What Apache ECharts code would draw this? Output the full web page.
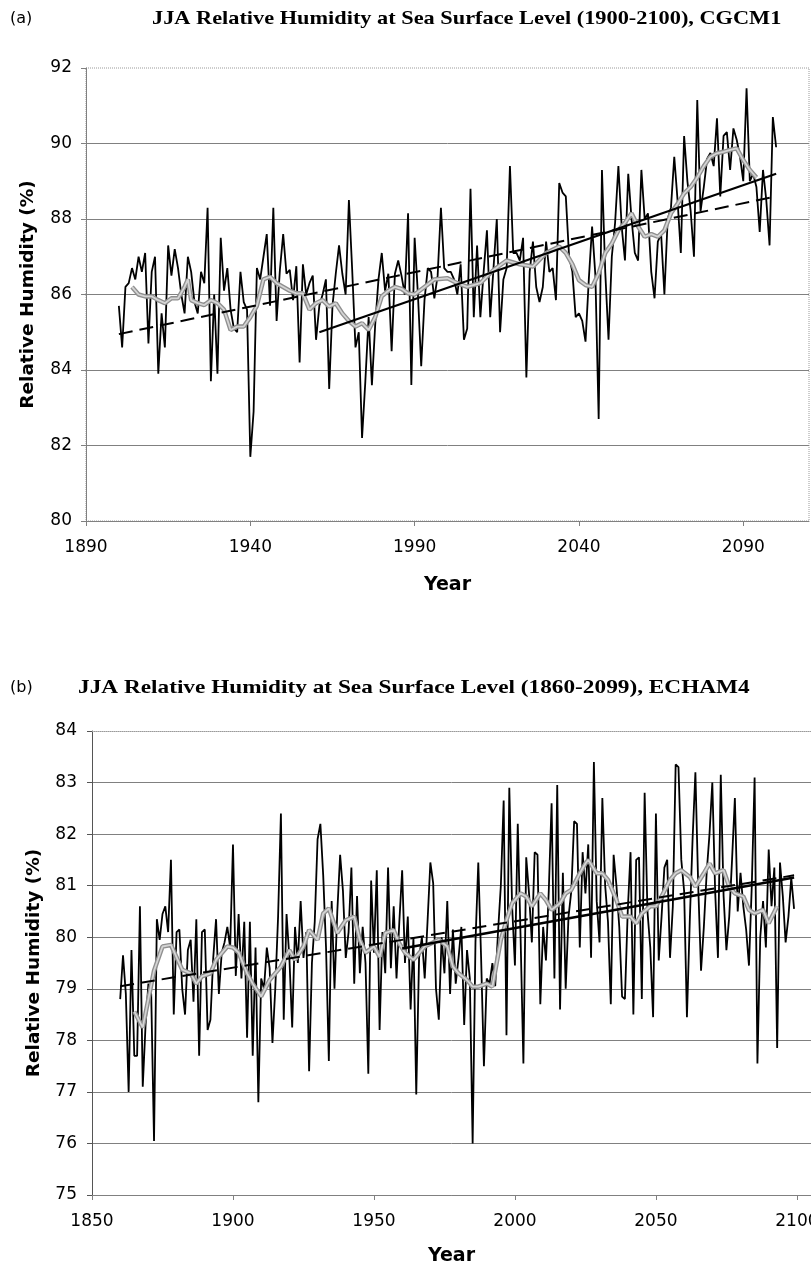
<!DOCTYPE html>
<html><head><meta charset="utf-8">
<script src="https://cdn.jsdelivr.net/npm/echarts@6/dist/echarts.min.js"></script>
<style>html,body{margin:0;padding:0;background:#fff}#c{width:811px;height:1271px}</style>
</head><body><div id="c"></div>
<script>
// ---------- texts ----------
const panelLabelA = '(a)';
const panelLabelB = '(b)';
const titleA = 'JJA Relative Humidity at Sea Surface Level (1900-2100), CGCM1';
const titleB = 'JJA Relative Humidity at Sea Surface Level (1860-2099), ECHAM4';
const yAxisName = 'Relative Humidity (%)';
const xAxisName = 'Year';

// ---------- tick labels ----------
const xTicksA = [1890, 1940, 1990, 2040, 2090];
const yTicksA = [80, 82, 84, 86, 88, 90, 92];
const xTicksB = [1850, 1900, 1950, 2000, 2050, 2100];
const yTicksB = [75, 76, 77, 78, 79, 80, 81, 82, 83, 84];

// ---------- panel (a) CGCM1 data ----------
const startYearA = 1900;
const annualA = [
  85.7, 84.6, 86.2, 86.3, 86.7, 86.4, 87.0, 86.6, 87.1, 84.7,
  86.6, 87.0, 83.9, 85.5, 84.6, 87.3, 86.5, 87.2, 86.7, 86.0,
  85.5, 87.0, 86.6, 85.8, 85.5, 86.6, 86.3, 88.3, 83.7, 86.0,
  83.9, 87.5, 86.1, 86.7, 85.6, 85.1, 85.0, 86.6, 85.8, 85.6,
  81.7, 82.9, 86.7, 86.4, 87.0, 87.6, 85.7, 88.3, 85.3, 86.65,
  87.6, 86.55, 86.65, 85.85, 86.75, 84.2, 86.8, 86.0, 86.3, 86.5,
  84.8, 85.7, 86.0, 86.4, 83.5, 85.7, 86.55, 87.3, 86.55, 86.0,
  88.5, 86.65, 84.6, 85.0, 82.2, 83.7, 85.4, 83.6, 85.2, 86.4,
  87.1, 86.1, 86.55, 84.5, 86.55, 86.9, 86.5, 86.0, 88.15, 83.6,
  87.5, 86.0, 84.1, 85.85, 86.7, 86.6, 85.9, 86.5, 88.3, 86.7,
  86.6, 86.6, 86.4, 86.0, 86.8, 84.8, 85.1, 88.8, 85.4, 87.3,
  85.4, 86.6, 87.7, 85.4, 86.7, 88.0, 85.0, 86.4, 86.7, 89.4,
  87.1, 87.1, 86.9, 87.5, 83.8, 86.6, 87.4, 86.2, 85.8, 86.2,
  87.4, 86.6, 86.7, 85.85, 88.95, 88.7, 88.6, 87.0, 86.6, 85.4,
  85.5, 85.3, 84.75, 86.4, 87.8, 86.5, 82.7, 89.3, 86.6, 84.8,
  87.0, 87.9, 89.4, 87.8, 86.9, 89.2, 88.0, 87.1, 86.9, 89.3,
  88.0, 88.15, 86.6, 85.9, 87.4, 87.6, 86.0, 88.0, 88.3, 89.65,
  88.5, 87.1, 90.2, 89.0, 88.2, 87.0, 91.15, 88.2, 88.85, 89.6,
  89.75, 89.4, 90.67, 88.6, 90.2, 90.3, 89.3, 90.4, 90.1, 89.65,
  89.0, 91.46, 89.0, 89.2, 88.85, 87.66, 89.3, 88.5, 87.3, 90.7, 89.9
];
const smoothYearsA = [1904,1906,1908,1910,1912,1914,1916,1918,1920,1921,1922,1924,1926,1928,1930,1932,1934,1936,1938,1940,
  1942,1944,1946,1948,1950,1952,1954,1956,1958,1960,1962,1964,1966,1968,1970,1972,1974,1976,1978,1980,
  1982,1984,1986,1988,1990,1993,1996,2000,2003,2006,2010,2014,2018,2022,2026,2030,2034,2036,2038,2040,
  2042,2044,2046,2048,2050,2052,2054,2056,2058,2060,2062,2064,2066,2068,2070,2072,2074,2076,2078,2080,
  2082,2084,2086,2088,2090,2092,2094];
const smoothA = [86.2,86.0,85.95,85.95,85.85,85.77,85.9,85.9,86.2,86.4,85.85,85.77,85.72,85.85,85.77,85.6,85.06,85.15,85.15,85.4,
  85.7,86.4,86.47,86.3,86.2,86.1,86.03,86.03,85.6,85.77,85.85,85.68,85.77,85.5,85.3,85.15,85.24,85.06,85.4,85.95,
  86.1,86.2,86.15,86.03,86.0,86.2,86.4,86.43,86.3,86.2,86.3,86.65,86.9,86.8,86.74,87.1,87.27,87.1,86.8,86.38,
  86.25,86.2,86.56,87.1,87.35,87.7,87.9,88.15,87.8,87.53,87.6,87.53,87.7,88.15,88.4,88.68,88.85,89.1,89.4,89.65,
  89.74,89.78,89.83,89.87,89.56,89.3,89.1];
const trendAllYearsA = [1900, 2100];
const trendAllA = [84.95, 88.6];
const trendLateYearsA = [1961, 2100];
const trendLateA = [85.0, 89.2];

// ---------- panel (b) ECHAM4 data ----------
const startYearB = 1860;
const annualB = [
  78.8, 79.65, 78.9, 77.0, 79.75, 77.7, 77.7, 80.6, 77.1, 78.3,
  79.1, 78.9, 76.05, 80.35, 79.95, 80.45, 80.6, 80.1, 81.5, 78.5,
  80.1, 80.15, 79.0, 78.5, 79.75, 79.95, 78.75, 80.35, 77.7, 80.1,
  80.15, 78.2, 78.4, 79.6, 80.35, 78.9, 79.7, 79.9, 80.2, 79.8,
  81.8, 79.25, 80.45, 79.2, 80.3, 78.05, 80.3, 77.7, 79.8, 76.8,
  79.2, 79.0, 79.8, 79.4, 77.95, 79.0, 80.4, 82.4, 78.4, 80.45,
  79.6, 78.25, 80.2, 79.5, 80.7, 79.6, 80.1, 77.4, 79.5, 80.3,
  81.9, 82.2, 81.2, 79.8, 77.6, 80.7, 79.0, 80.5, 81.6, 80.9,
  79.6, 80.1, 81.35, 79.1, 80.8, 79.3, 80.2, 79.5, 77.35, 81.1,
  79.7, 81.3, 78.2, 80.1, 79.3, 81.35, 79.4, 80.6, 79.2, 80.3,
  81.3, 79.5, 80.4, 78.6, 80.0, 76.95, 79.6, 80.0, 79.2, 80.3,
  81.45, 81.05, 79.0, 78.4, 80.0, 79.3, 80.7, 78.9, 80.15, 79.1,
  79.6, 80.2, 78.3, 79.75, 79.2, 76.0, 79.9, 81.45, 79.6, 77.5,
  79.2, 79.1, 79.5, 79.05, 80.1, 81.0, 82.65, 78.1, 82.9, 80.6,
  79.45, 82.2, 80.0, 77.55, 81.55, 80.85, 79.9, 81.65, 81.6, 78.7,
  80.2, 79.55, 80.9, 82.6, 79.2, 82.95, 78.6, 81.25, 79.0, 80.4,
  80.9, 82.25, 82.2, 79.8, 81.65, 80.85, 81.8, 79.6, 83.4, 80.7,
  79.9, 82.7, 81.0, 80.3, 78.7, 81.6, 81.0, 80.2, 78.85, 78.8,
  80.5, 81.65, 78.5, 81.5, 81.55, 78.8, 82.8, 80.5, 79.8, 78.45,
  82.4, 79.55, 80.4, 81.35, 81.5, 79.6, 80.6, 83.35, 83.3, 81.5,
  80.9, 78.45, 80.3, 81.9, 83.2, 81.0, 79.35, 80.2, 81.25, 82.0,
  83.0, 80.9, 79.6, 83.15, 80.8, 79.75, 80.4, 81.5, 82.7, 80.5,
  81.25, 80.6, 80.15, 79.45, 81.0, 83.1, 77.55, 80.0, 80.7, 79.8,
  81.7, 80.6, 81.35, 77.85, 81.45, 80.8, 79.9, 80.4, 81.15, 80.55
];
const smoothYearsB = [1865,1868,1872,1875,1878,1882,1885,1887,1889,1892,1894,1898,1900,1902,1905,1907,1910,1913,1917,1920,
  1922,1925,1927,1930,1932,1934,1937,1940,1943,1945,1947,1950,1952,1954,1957,1959,1961,1964,1968,1973,
  1976,1978,1980,1983,1985,1987,1990,1992,1995,1997,1999,2002,2004,2006,2009,2011,2013,2016,2018,2020,
  2023,2025,2026,2029,2031,2033,2036,2038,2041,2043,2045,2048,2050,2052,2055,2057,2059,2062,2064,2067,
  2069,2071,2074,2076,2078,2081,2083,2085,2088,2090,2093];
const smoothB = [78.56,78.25,79.35,79.82,79.85,79.37,79.3,79.1,79.24,79.3,79.56,79.82,79.8,79.7,79.3,79.1,78.85,79.17,79.43,79.75,
  79.56,79.82,80.14,79.95,80.46,80.56,80.08,80.33,80.4,79.95,79.7,79.82,79.62,80.08,80.14,79.88,79.7,79.56,79.82,79.95,
  79.82,79.43,79.3,79.17,79.04,79.04,79.1,79.04,79.95,80.33,80.66,80.85,80.79,80.6,80.85,80.72,80.53,80.66,80.85,80.92,
  81.24,81.43,81.5,81.24,81.24,81.11,80.72,80.4,80.4,80.27,80.46,80.6,80.6,80.79,81.11,81.24,81.3,81.17,80.98,81.24,
  81.43,81.24,81.3,80.98,80.85,80.79,80.53,80.46,80.53,80.27,80.6];
const trendAllYearsB = [1860, 2099];
const trendAllB = [79.05, 81.2];
const trendLateYearsB = [1960, 2099];
const trendLateB = [79.78, 81.16];

// ---------- build ----------
const seq = (start, vals) => vals.map((v, i) => [start + i, v]);
const zip = (xs, ys) => xs.map((x, i) => [x, ys[i]]);
const GRAY = '#808080';
const tickFont = { fontFamily: 'DejaVu Sans', fontSize: 17, color: '#000' };
const nameFont = { fontFamily: 'DejaVu Sans', fontWeight: 'bold', fontSize: 19, color: '#000' };
const yNameFont = { fontFamily: 'DejaVu Sans', fontWeight: 'bold', fontSize: 18.5, color: '#000' };

function splitColors(n) { const a = []; for (let i = 0; i < n - 1; i++) a.push(GRAY); a.push('rgba(0,0,0,0)'); return a; }

function xAxisCfg(grid, ticks, min, max, gap) {
  return {
    type: 'value', gridIndex: grid, min: min, max: max, interval: 50,
    axisLine: { show: true, lineStyle: { color: GRAY, width: 1 } },
    axisTick: { show: true, length: 5, lineStyle: { color: GRAY }, customValues: ticks },
    axisLabel: Object.assign({ margin: 18, customValues: ticks, formatter: v => String(v) }, tickFont),
    splitLine: { show: false },
    name: xAxisName, nameLocation: 'middle', nameGap: gap, nameTextStyle: nameFont
  };
}
function yAxisCfg(grid, ticks, margin, axisColor) {
  return {
    type: 'value', gridIndex: grid, min: ticks[0], max: ticks[ticks.length - 1], interval: ticks[1] - ticks[0],
    axisLine: { show: true, lineStyle: { color: axisColor, width: 1 } },
    axisTick: { show: true, length: 5, lineStyle: { color: axisColor } },
    axisLabel: Object.assign({ margin: margin }, tickFont),
    splitLine: { show: true, lineStyle: { color: splitColors(ticks.length), width: 1 } },
    name: yAxisName, nameLocation: 'middle', nameRotate: 90, nameGap: 48, nameTextStyle: yNameFont
  };
}
function lineS(grid, data, color, width, type, z) {
  return { type: 'line', xAxisIndex: grid, yAxisIndex: grid, data: data, symbol: 'none', showSymbol: false,
    lineStyle: { color: color, width: width, type: type || 'solid' }, z: z, silent: true };
}
function txt(x, y, text, font, sx) {
  return { type: 'text', x: x, y: y, scaleX: sx || 1,
    style: { text: text, font: font, fill: '#000', textAlign: 'left', align: 'left', textVerticalAlign: 'middle', verticalAlign: 'middle' } };
}

const option = {
  animation: false,
  backgroundColor: '#fff',
  grid: [
    { left: 86, top: 68, width: 723, height: 453, show: true, borderColor: '#9a9a9a', borderWidth: 1, borderType: 'dotted', outerBoundsMode: 'none', containLabel: false },
    { left: 92, top: 731, width: 719, height: 464, show: false, outerBoundsMode: 'none', containLabel: false }
  ],
  xAxis: [
    xAxisCfg(0, xTicksA, 1890, 2110, 55),
    xAxisCfg(1, xTicksB, 1850, 2105, 52),
    { type: 'value', gridIndex: 1, position: 'top', min: 1850, max: 2105,
      axisLine: { show: true, lineStyle: { color: '#9a9a9a', width: 1, type: 'dotted' } },
      axisTick: { show: false }, axisLabel: { show: false }, splitLine: { show: false } }
  ],
  yAxis: [ yAxisCfg(0, yTicksA, 14, GRAY), yAxisCfg(1, yTicksB, 15, '#555') ],
  series: [
    lineS(0, seq(startYearA, annualA), '#000', 1.8, 'solid', 2),
    lineS(0, zip(smoothYearsA, smoothA), '#8f8f8f', 4.5, 'solid', 3),
    lineS(0, zip(smoothYearsA, smoothA), '#d4d4d4', 1.8, 'solid', 4),
    lineS(0, zip(trendAllYearsA, trendAllA), '#000', 2, [14, 7], 5),
    lineS(0, zip(trendLateYearsA, trendLateA), '#000', 2.2, 'solid', 6),
    lineS(1, seq(startYearB, annualB), '#000', 1.8, 'solid', 2),
    lineS(1, zip(smoothYearsB, smoothB), '#8f8f8f', 4.5, 'solid', 3),
    lineS(1, zip(smoothYearsB, smoothB), '#d4d4d4', 1.8, 'solid', 4),
    lineS(1, zip(trendAllYearsB, trendAllB), '#000', 2, [14, 7], 5),
    lineS(1, zip(trendLateYearsB, trendLateB), '#000', 2.6, 'solid', 6)
  ],
  graphic: [
    txt(10, 19, panelLabelA, '16px "DejaVu Sans"', 1),
    txt(152, 19, titleA, 'bold 19px "Liberation Serif"', 1.175),
    txt(10, 688, panelLabelB, '16px "DejaVu Sans"', 1),
    txt(78, 688, titleB, 'bold 19px "Liberation Serif"', 1.225)
  ]
};
const chart = echarts.init(document.getElementById('c'), null, { renderer: 'canvas' });
chart.setOption(option);
</script>
</body></html>
